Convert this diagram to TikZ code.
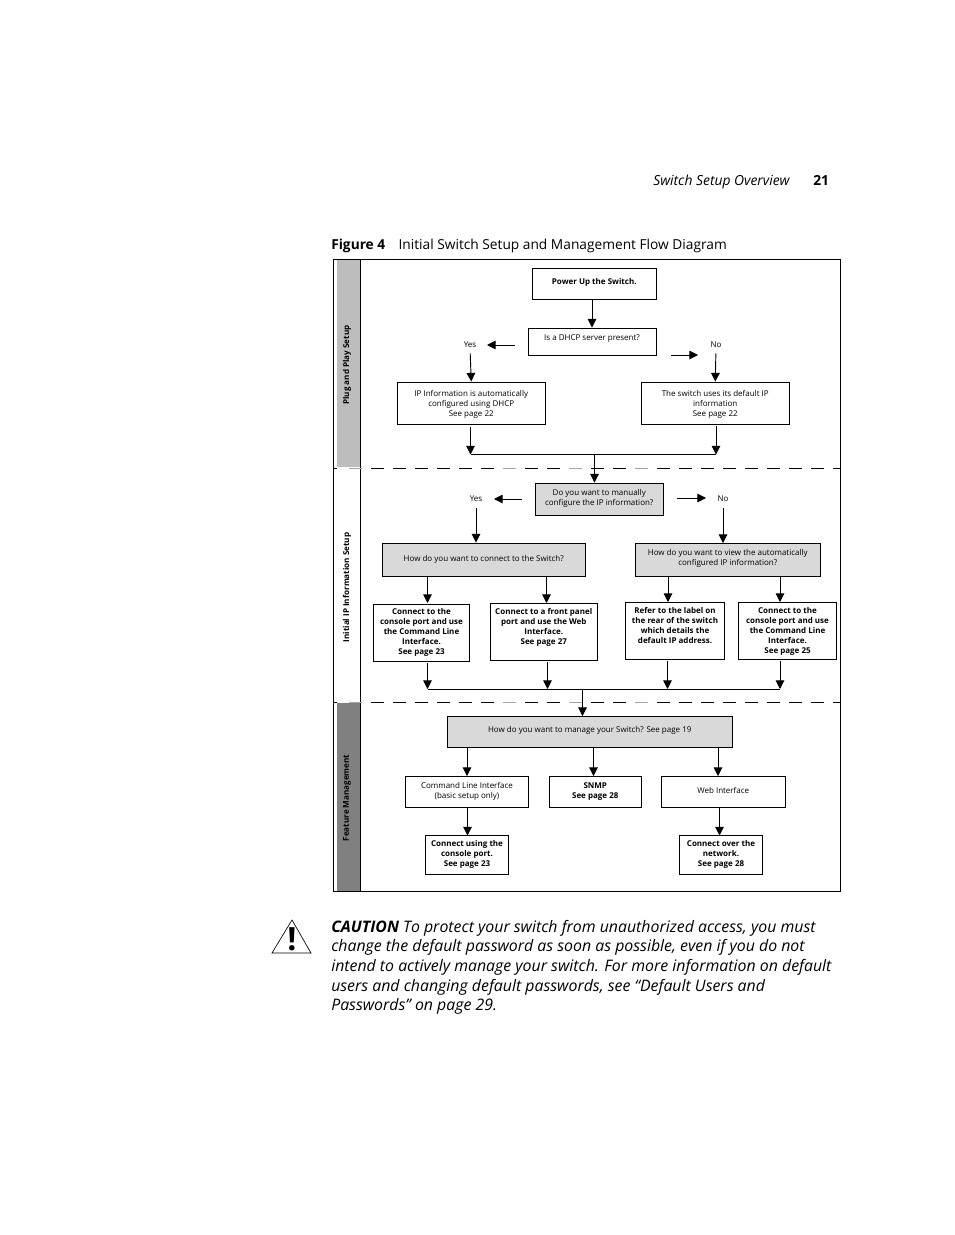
\documentclass[tikz,border=0pt]{standalone}
\usepackage{fontspec}
\setmainfont{Open Sans}
\usetikzlibrary{arrows.meta}
\usetikzlibrary{positioning}
\definecolor{plugbar}{HTML}{BDBDBD}
\definecolor{featbar}{HTML}{808080}
\definecolor{askfill}{HTML}{D9D9D9}
\definecolor{dashgray}{HTML}{A6A6A6}
\tikzset{
  px/.style 2 args={minimum width=#1*0.75pt,minimum height=#2*0.75pt},
  up/.style={text depth=#1*0.75pt},
  stepbox/.style={draw,line width=0.7pt,inner sep=0pt,align=center,font=\fontsize{6}{7.5}\selectfont},
  boldbox/.style={stepbox,font=\fontsize{6}{7.5}\selectfont\bfseries},
  askbox/.style={stepbox,fill=askfill},
  answer/.style={inner sep=0pt,font=\fontsize{6}{7.5}\selectfont},
  arr/.style={-{Triangle[length=6.5pt,width=6.5pt]},line width=0.7pt},
  bus/.style={line width=0.7pt},
  sidelabel/.style={rotate=90,inner sep=0pt,font=\fontsize{6.05}{7.5}\selectfont\bfseries},
  divider/.style={line width=0.7pt,dash pattern=on 9.75pt off 6.75pt}
}
\begin{document}
\begin{tikzpicture}[x=0.75pt,y=-0.75pt]
\useasboundingbox (0,0) rectangle (954,1235);
% page header and caption
\node[anchor=base west,inner sep=0pt,font=\fontsize{10.4}{12}\selectfont\itshape] (runhead) at (653,185) {Switch Setup Overview};
\node[anchor=base west,inner sep=0pt,font=\fontsize{10.4}{12}\selectfont\bfseries] (pageno) at (813,185) {21};
\node[anchor=base west,inner sep=0pt,font=\fontsize{10.3}{12}\selectfont] (caption) at (331,249) {\textbf{Figure 4}\hspace{10pt}Initial Switch Setup and Management Flow Diagram};
% side bars and frame
\fill[plugbar] (337,259) rectangle (360,467);
\fill[featbar] (337,703) rectangle (360,891);
\draw[line width=0.7pt] (333,259) rectangle (840,891);
\draw[line width=0.7pt] (360,259) -- (360,891);
\node[sidelabel] (plug) at (347,365) {Plug and Play Setup};
\node[sidelabel] (initial) at (347,587.5) {Initial IP Information Setup};
\node[sidelabel] (feature) at (347,798) {Feature Management};
\foreach \y in {468,702} {
  \draw[divider] (349,\y) -- (840,\y);
  \draw[line width=0.7pt] (333,\y) -- (337,\y);
  \foreach \x in {349,503,569,635}
    \draw[line width=0.7pt,dashgray] (\x,\y) -- ++(13,0);
}
% plug and play
\node[boldbox,px={123.5}{31},up=5] (power) at (594.25,283.5) {Power Up the Switch.};
\node[stepbox,px={128}{27},up=8] (dhcp) at (592,341.5) {Is a DHCP server present?};
\node[answer] (yes1) at (470,345) {Yes};
\node[answer] (no1) at (716,345) {No};
\node[stepbox,px={148.5}{42},up=0] (autoip) at (471.25,403) {IP Information is automatically\\configured using DHCP\\See page 22};
\node[stepbox,px={148.5}{42},up=0] (defip) at (715.25,403) {The switch uses its default IP\\information\\See page 22};
\coordinate (busl1) at (470.5,454.5);
\coordinate (busr1) at (716,454.5);
\coordinate (bust1) at (594.5,454.5);
\coordinate (yesfrom1) at (515,345);
\coordinate (nofrom1) at (671,355);
\coordinate (noto1) at (698,355);
\draw[arr] (power.south -| dhcp.north) -- (dhcp.north);
\draw[arr] (yesfrom1) -- (yes1.east -| 487,345);
\draw[arr] (nofrom1) -- (noto1);
\draw[arr,shorten <=4pt] (yes1.south) -- (autoip.north);
\draw[arr,shorten <=4pt] (no1.south) -- (defip.north);
\draw[arr] ([yshift=-2pt]autoip.south -| busl1) -- (busl1);
\draw[arr] ([yshift=-1pt]defip.south -| busr1) -- (busr1);
\draw[bus] (busl1) -- (busr1);
% initial ip information
\node[askbox,px={128.5}{32},up=4] (manual) at (599.25,499) {Do you want to manually\\configure the IP information?};
\node[answer] (yes2) at (476,499) {Yes};
\node[answer] (no2) at (723,499) {No};
\node[askbox,px={203.5}{33},up=3] (howcon) at (483.75,559.5) {How do you want to connect to the Switch?};
\node[askbox,px={185.5}{32.5},up=4] (howview) at (727.75,559.75) {How do you want to view the automatically\\configured IP information?};
\node[boldbox,px={96}{57}] (con1) at (421.5,632.5) {Connect to the\\console port and use\\the Command Line\\Interface.\\See page 23};
\node[boldbox,px={106.5}{57.5},up=10] (con2) at (543.75,631.75) {Connect to a front panel\\port and use the Web\\Interface.\\See page 27};
\node[boldbox,px={99}{57},up=10] (label) at (675,630.5) {Refer to the label on\\the rear of the switch\\which details the\\default IP address.};
\node[boldbox,px={98}{57},up=0] (con3) at (787.5,630.5) {Connect to the\\console port and use\\the Command Line\\Interface.\\See page 25};
\coordinate (yesfrom2) at (522,499);
\coordinate (yesto2) at (494,499);
\coordinate (nofrom2) at (677,498);
\coordinate (noto2) at (706,498);
\coordinate (tocon1) at (427.5,603);
\coordinate (tocon2) at (546.5,603);
\coordinate (tolabel) at (668,602);
\coordinate (tocon3) at (780,602);
\coordinate (busl2) at (427.5,689);
\coordinate (busb2) at (547.5,689);
\coordinate (busc2) at (667.5,689);
\coordinate (busr2) at (780,689);
\coordinate (bust2) at (582.5,689);
\draw[arr] (bust1) -- (bust1 |- manual.north);
\draw[arr] (yesfrom2) -- (yesto2);
\draw[arr] (nofrom2) -- (noto2);
\draw[arr,shorten <=4pt] (yes2.south) -- (yes2.south |- howcon.north);
\draw[arr,shorten <=4pt] (no2.south) -- (no2.south |- howview.north);
\draw[arr] (howcon.south -| tocon1) -- (tocon1);
\draw[arr] (howcon.south -| tocon2) -- (tocon2);
\draw[arr] (howview.south -| tolabel) -- (tolabel);
\draw[arr] (howview.south -| tocon3) -- (tocon3);
\draw[arr] ([yshift=-1pt]con1.south -| busl2) -- (busl2);
\draw[arr] ([yshift=-1pt]con2.south -| busb2) -- (busb2);
\draw[arr] ([yshift=-1pt]label.south -| busc2) -- (busc2);
\draw[arr] ([yshift=-1pt]con3.south -| busr2) -- (busr2);
\draw[bus] (busl2) -- (busr2);
% feature management
\node[askbox,px={285.5}{30.5},up=4] (manage) at (589.75,731.75) {How do you want to manage your Switch? See page 19};
\node[stepbox,px={123}{31.5},up=3] (cli) at (467,791.75) {Command Line Interface\\(basic setup only)};
\node[boldbox,px={91.5}{31.5},up=3] (snmp) at (595.25,791.75) {SNMP\\See page 28};
\node[stepbox,px={123.5}{31.5},up=3] (web) at (723.25,791.75) {Web Interface};
\node[boldbox,px={83}{39},up=4] (conport) at (467,855) {Connect using the\\console port.\\See page 23};
\node[boldbox,px={83}{39},up=4] (connet) at (721,855) {Connect over the\\network.\\See page 28};
\coordinate (tocli) at (467,776);
\coordinate (tosnmp) at (593.5,776);
\coordinate (toweb) at (718,776);
\coordinate (toport) at (467.5,835.5);
\coordinate (tonet) at (719.5,835.5);
\draw[arr] (bust2) -- (bust2 |- manage.north);
\draw[arr] (manage.south -| tocli) -- (tocli);
\draw[arr] (manage.south -| tosnmp) -- (tosnmp);
\draw[arr] (manage.south -| toweb) -- (toweb);
\draw[arr] (cli.south -| toport) -- (toport);
\draw[arr] (web.south -| tonet) -- (tonet);
% caution note
\draw[line width=0.5pt] (292,920) -- (311,953) -- (272,953) -- cycle;
\node[inner sep=0pt,font=\fontsize{24}{24}\selectfont\bfseries] (bang) at (292,939) {!};
\node[anchor=north west,inner sep=0pt,align=left,font=\fontsize{11.9}{14.65}\selectfont\itshape] (caution) at (331,920) {\textbf{CAUTION} To protect your switch from unauthorized access, you must\\change the default password as soon as possible, even if you do not\\intend to actively manage your switch. For more information on default\\users and changing default passwords, see “Default Users and\\Passwords” on page 29.};
\end{tikzpicture}
\end{document}
